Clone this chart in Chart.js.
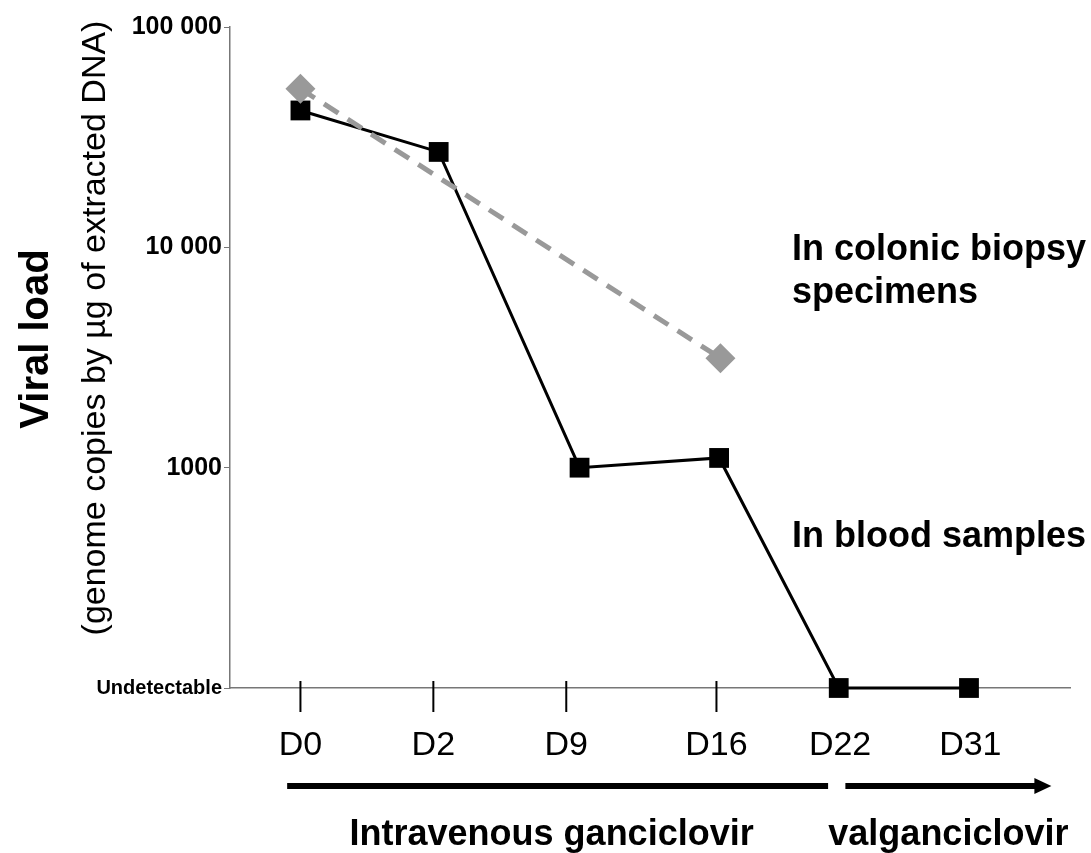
<!DOCTYPE html>
<html>
<head>
<meta charset="utf-8">
<script src="https://cdn.jsdelivr.net/npm/chart.js@4.4.0/dist/chart.umd.min.js"></script>
<style>
  body { margin: 0; background: #fff; }
  #wrap { width: 1091px; height: 853px; }
</style>
</head>
<body>
<div id="wrap"><canvas id="grafico"></canvas></div>
<script>
const fuente = "'Liberation Sans', Arial, Helvetica, sans-serif";

// dias de muestreo (posicion de cada etiqueta en el eje x)
const dias = ['D0', 'D2', 'D9', 'D16', 'D22', 'D31'];
const posEtiquetas = [0, 1, 2, 3.13, 4.06, 5.04];
const diasConMarca = 4; // solo D0..D16 llevan marca

// carga viral en sangre
const posSangre = [0, 1.04, 2.1, 3.15, 4.05, 5.03];
const cargaSangre = [41800, 27100, 1000, 1107, 100, 100];

// carga viral en biopsias de colon
const posBiopsia = [0, 3.16];
const cargaBiopsia = [52400, 3140];

// eje y
const ticksY = [100, 1000, 10000, 100000];
const etiquetasY = ['Undetectable', '1000', '10 000', '100 000'];

// tratamientos (flechas de abajo)
const tratamientos = ['Intravenous ganciclovir', 'valganciclovir'];
const tratInicio = [-0.1, 4.1];
const tratFin = [3.97, 5.65];

const dibujosExtra = {
  id: 'dibujosExtra',
  afterDraw(chart) {
    const { ctx, scales: { x, y } } = chart;
    const base = y.getPixelForValue(100);
    ctx.save();

    // marcas del eje x (cruzan un poco el eje)
    ctx.strokeStyle = '#000';
    ctx.lineWidth = 2;
    for (let i = 0; i < diasConMarca; i++) {
      const px = x.getPixelForValue(posEtiquetas[i]);
      ctx.beginPath();
      ctx.moveTo(px, base - 7);
      ctx.lineTo(px, base + 24);
      ctx.stroke();
    }

    // titulos del eje y
    ctx.fillStyle = '#000';
    ctx.textAlign = 'center';
    ctx.textBaseline = 'alphabetic';
    ctx.save();
    ctx.translate(48, 339);
    ctx.rotate(-Math.PI / 2);
    ctx.font = 'bold 40px ' + fuente;
    ctx.fillText('Viral load', 0, 0);
    ctx.restore();
    ctx.save();
    ctx.translate(105, 328);
    ctx.rotate(-Math.PI / 2);
    ctx.font = '34px ' + fuente;
    ctx.fillText('(genome copies by \u00b5g of extracted DNA)', 0, 0);
    ctx.restore();

    // notas de las series
    ctx.textAlign = 'left';
    ctx.font = 'bold 36px ' + fuente;
    ctx.fillText('In colonic biopsy', 792, 260);
    ctx.fillText('specimens', 792, 303);
    ctx.fillText('In blood samples', 792, 547);

    // flechas de tratamiento
    ctx.lineWidth = 6;
    tratamientos.forEach((t, i) => {
      const x0 = x.getPixelForValue(tratInicio[i]);
      const x1 = x.getPixelForValue(tratFin[i]);
      const yf = 786;
      const conPunta = i === tratamientos.length - 1;
      ctx.beginPath();
      ctx.moveTo(x0, yf);
      ctx.lineTo(conPunta ? x1 - 14 : x1, yf);
      ctx.stroke();
      if (conPunta) {
        ctx.beginPath();
        ctx.moveTo(x1, yf);
        ctx.lineTo(x1 - 17, yf - 8);
        ctx.lineTo(x1 - 17, yf + 8);
        ctx.closePath();
        ctx.fill();
      }
      ctx.textAlign = 'center';
      ctx.fillText(t, (x0 + x1) / 2 - (conPunta ? 0 : 6), 845);
    });

    ctx.restore();
  }
};

new Chart(document.getElementById('grafico'), {
  type: 'line',
  data: {
    datasets: [
      {
        label: 'In colonic biopsy specimens',
        data: posBiopsia.map((p, i) => ({ x: p, y: cargaBiopsia[i] })),
        borderColor: '#999',
        backgroundColor: '#999',
        borderWidth: 5,
        borderDash: [17, 11],
        pointStyle: 'rectRot',
        pointRadius: 15,
        pointBorderWidth: 0,
        clip: false
      },
      {
        label: 'In blood samples',
        data: posSangre.map((p, i) => ({ x: p, y: cargaSangre[i] })),
        borderColor: '#000',
        backgroundColor: '#000',
        borderWidth: 3,
        pointStyle: 'rect',
        pointRadius: 14,
        pointBorderWidth: 0,
        clip: false
      }
    ]
  },
  options: {
    responsive: true,
    maintainAspectRatio: false,
    animation: false,
    layout: { padding: { top: 27, right: 21, left: 0, bottom: 0 } },
    plugins: { legend: { display: false }, tooltip: { enabled: false } },
    scales: {
      x: {
        type: 'linear',
        min: -0.53,
        max: 5.79,
        afterBuildTicks: s => { s.ticks = posEtiquetas.map(v => ({ value: v })); },
        afterFit: s => { s.height = 165; },
        grid: { drawOnChartArea: false, drawTicks: true, tickLength: 24, color: 'rgba(0,0,0,0)' },
        border: { color: '#777', width: 1.5 },
        ticks: {
          padding: 13,
          color: '#000',
          maxRotation: 0,
          autoSkip: false,
          font: { family: fuente, size: 34 },
          callback: (v, i) => dias[i]
        }
      },
      y: {
        type: 'logarithmic',
        min: 100,
        max: 100000,
        afterBuildTicks: s => { s.ticks = ticksY.map(v => ({ value: v })); },
        afterFit: s => { s.width = 230; },
        grid: { drawOnChartArea: false, tickLength: 6, color: '#777' },
        border: { color: '#777', width: 1.5 },
        ticks: {
          padding: 2,
          color: '#000',
          autoSkip: false,
          font: c => ({ family: fuente, weight: 'bold', size: c.tick && c.tick.value === 100 ? 20 : 25 }),
          callback: (v, i) => etiquetasY[i]
        }
      }
    }
  },
  plugins: [dibujosExtra]
});
</script>
</body>
</html>
